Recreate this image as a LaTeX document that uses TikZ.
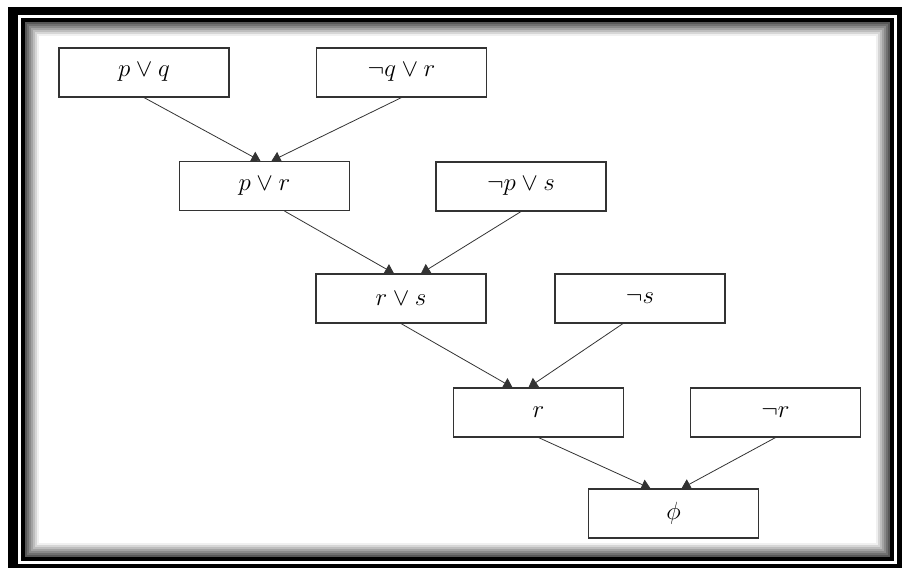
\documentclass[tikz,border=0pt]{standalone}
\usetikzlibrary{arrows.meta}
\tikzset{
  clause/.style={draw=black!80, line width=1.1pt, fill=white, minimum width=170pt, minimum height=49pt, inner sep=0pt, font=\Huge},
  infer/.style={draw=black!80, line width=0.8pt, -{Triangle[length=9pt,width=11pt]}}
}
\begin{document}
\begin{tikzpicture}[x=1pt,y=-1pt]
\useasboundingbox (0,0) rectangle (902,568);
\fill[black] (8,7) rectangle (902,568);
\fill[white] (18,15) rectangle (897,564);
\fill[black] (21,18) rectangle (894,561);
\fill[white] (25,22) rectangle (890,557);
\foreach \i in {0,...,6} \draw[line width=2pt, black!\the\numexpr 66-10*\i\relax] (26+2*\i,23+2*\i) rectangle (889-2*\i,556-2*\i);
\node[clause] (pq) at (144,72.5) {$p \vee q$};
\node[clause] (nqr) at (401.5,72.5) {$\neg q \vee r$};
\node[clause] (pr) at (264.5,186) {$p \vee r$};
\node[clause] (nps) at (521,186.5) {$\neg p \vee s$};
\node[clause] (rs) at (401,298.5) {$r \vee s$};
\node[clause] (ns) at (640,298.5) {$\neg s$};
\node[clause] (r) at (538.5,412.5) {$r$};
\node[clause] (nr) at (775.5,412.5) {$\neg r$};
\node[clause] (empty) at (673.5,513.5) {$\phi$};
\draw[infer] (pq.south) -- ([xshift=-4pt]pr.north);
\draw[infer] (nqr.south) -- ([xshift=7pt]pr.north);
\draw[infer] ([xshift=20pt]pr.south) -- ([xshift=-7pt]rs.north);
\draw[infer] (nps.south) -- ([xshift=20pt]rs.north);
\draw[infer] (rs.south) -- ([xshift=-26pt]r.north);
\draw[infer] ([xshift=-17pt]ns.south) -- ([xshift=-10pt]r.north);
\draw[infer] (r.south) -- ([xshift=-23pt]empty.north);
\draw[infer] (nr.south) -- ([xshift=8pt]empty.north);
\end{tikzpicture}
\end{document}
